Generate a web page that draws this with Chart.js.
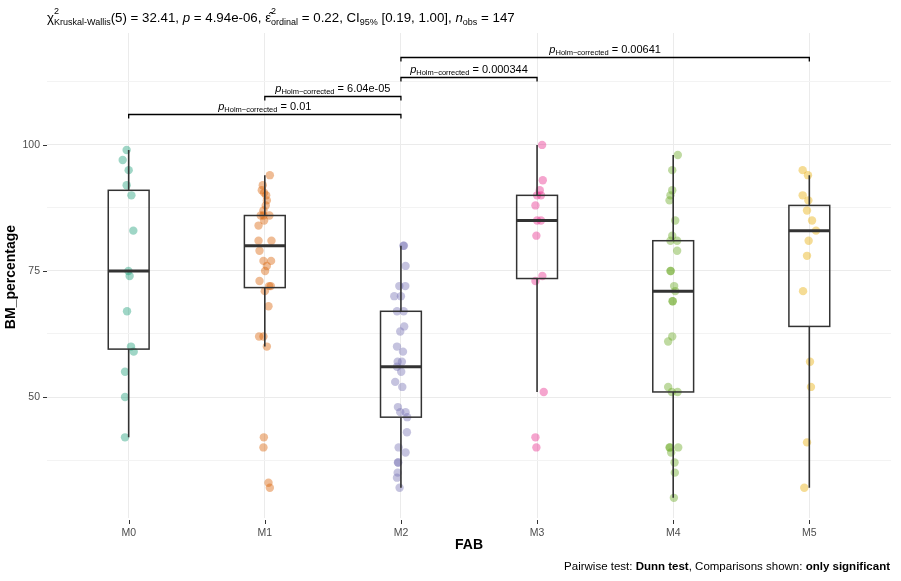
<!DOCTYPE html>
<html>
<head>
<meta charset="utf-8">
<script src="https://cdn.jsdelivr.net/npm/chart.js@4/dist/chart.umd.min.js"></script>
<style>
  html, body { margin: 0; padding: 0; background: #fff; }
  #wrap { width: 901px; height: 581px; position: relative; }
</style>
</head>
<body>
<div id="wrap"><canvas id="fabChart" width="901" height="581"></canvas></div>
<script>
// groups on the x axis
const groups = ['M0', 'M1', 'M2', 'M3', 'M4', 'M5'];
const groupColors = ['#1B9E77', '#D95F02', '#7570B3', '#E7298A', '#66A61E', '#E6AB02'];

// BM_percentage values, one list per group
const valsM0 = [99, 97, 95, 92, 90, 83, 75, 74, 67, 60, 59, 55, 50, 42];
const valsM1 = [94, 92, 91, 90.5, 90, 89, 88, 87, 86, 86, 86, 85, 84, 81, 81, 79, 77, 77, 76, 75, 73, 72, 72, 71, 68, 62, 62, 60, 42, 40, 33, 32];
const valsM2 = [80, 80, 76, 72, 72, 70, 70, 67, 67, 64, 63, 60, 59, 57, 57, 56, 55, 53, 52, 48, 47, 47, 46, 43, 40, 39, 37, 37, 35, 34, 32];
const valsM3 = [100, 93, 91, 90, 90, 88, 85, 85, 82, 74, 73, 51, 42, 40];
const valsM4 = [98, 95, 91, 90, 89, 85, 82, 81, 81, 79, 75, 75, 72, 71, 69, 69, 62, 61, 52, 51, 51, 40, 40, 40, 39, 37, 35, 30];
const valsM5 = [95, 94, 90, 89, 87, 85, 83, 81, 78, 71, 57, 52, 41, 32];

// horizontal jitter of each point (in category units)
const jitM0 = [-0.015, -0.044, 0, -0.015, 0.02, 0.034, -0.002, 0.007, -0.012, 0.017, 0.037, -0.027, -0.027, -0.027];
const jitM1 = [0.037, -0.015, -0.022, -0.005, 0.01, 0.015, 0.007, -0.01, -0.03, 0.034, -0.01, -0.005, -0.046, -0.046, 0.049, -0.039, -0.01, 0.046, 0.015, 0.002, -0.039, 0.032, 0.044, 0, 0.027, -0.042, -0.01, 0.015, -0.007, -0.01, 0.027, 0.037];
const jitM2 = [0.018, 0.022, 0.034, -0.012, 0.032, -0.049, 0, -0.029, 0.02, 0.024, -0.005, -0.029, 0.015, -0.024, 0.007, -0.029, 0.002, -0.042, 0.01, -0.022, -0.005, 0.034, 0.046, 0.044, -0.017, 0.034, -0.022, -0.02, -0.024, -0.029, -0.01];
const jitM3 = [0.037, 0.042, 0.02, 0, 0.029, -0.012, 0, 0.029, -0.005, 0.039, -0.012, 0.049, -0.012, -0.005];
const jitM4 = [0.034, -0.007, -0.007, -0.02, -0.027, 0.015, -0.007, -0.02, 0.029, 0.029, -0.02, -0.018, 0.007, 0.015, -0.005, -0.003, -0.007, -0.037, -0.037, -0.01, 0.032, -0.027, -0.024, 0.037, -0.015, 0.01, 0.012, 0.005];
const jitM5 = [-0.049, -0.01, -0.049, -0.007, -0.017, 0.02, 0.049, -0.005, -0.017, -0.046, 0.005, 0.012, -0.017, -0.037];

// box summaries per group
const boxLow = [42, 60, 32, 51, 30, 32];
const boxQ1 = [59.5, 71.7, 46, 73.5, 51, 64];
const boxMed = [75, 80, 56, 85, 71, 83];
const boxQ3 = [91, 86, 67, 90, 81, 88];
const boxHigh = [99, 94, 80, 100, 98, 94];

// significant pairwise comparisons
const pairFrom = [0, 1, 2, 2];
const pairTo = [2, 2, 3, 5];
const pairY = [106.1, 109.8, 113.5, 117.4];
const pairP = ['0.01', '6.04e-05', '0.000344', '0.00641'];

// y axis ticks (labelled ones and the minor grid in between)
const yTicks = [37.5, 50, 62.5, 75, 87.5, 100, 112.5];
const yLabelled = [50, 75, 100];

const allVals = [valsM0, valsM1, valsM2, valsM3, valsM4, valsM5];
const allJit = [jitM0, jitM1, jitM2, jitM3, jitM4, jitM5];

function hexA(hex, a) {
  const n = parseInt(hex.slice(1), 16);
  return `rgba(${(n >> 16) & 255}, ${(n >> 8) & 255}, ${n & 255}, ${a})`;
}

const FAM = '"Liberation Sans", Arial, Helvetica, sans-serif';
function fontOf(p) {
  return `${p.italic ? 'italic ' : ''}${p.bold ? 'bold ' : ''}${p.size}px ${FAM}`;
}
function partWidth(ctx, p) {
  if (p.sup !== undefined) {
    ctx.font = fontOf({ size: p.size });
    return Math.max(ctx.measureText(p.sup).width, ctx.measureText(p.sub).width);
  }
  ctx.font = fontOf(p);
  return ctx.measureText(p.t).width;
}
function drawRich(ctx, parts, x, y, align) {
  let total = 0;
  parts.forEach(p => total += partWidth(ctx, p));
  let cx = align === 'center' ? x - total / 2 : align === 'right' ? x - total : x;
  ctx.textAlign = 'left';
  ctx.textBaseline = 'alphabetic';
  parts.forEach(p => {
    const w = partWidth(ctx, p);
    if (p.sup !== undefined) {
      ctx.font = fontOf({ size: p.size });
      ctx.fillText(p.sup, cx, y - 8);
      ctx.fillText(p.sub, cx, y + 3);
    } else {
      ctx.font = fontOf(p);
      ctx.fillText(p.t, cx, y + (p.dy || 0));
    }
    cx += w;
  });
}

const datasets = groups.map((g, i) => ({
  label: g,
  data: allVals[i].map((v, k) => ({ x: i + allJit[i][k], y: v })),
  backgroundColor: hexA(groupColors[i], 0.42),
  borderWidth: 0,
  pointRadius: 4.2,
  pointHoverRadius: 4.2
}));

const boxPlugin = {
  id: 'boxes',
  afterDatasetsDraw(chart) {
    const { ctx, scales: { x, y } } = chart;
    ctx.save();
    ctx.strokeStyle = '#333333';
    groups.forEach((g, i) => {
      const cx = x.getPixelForValue(i);
      const half = x.getPixelForValue(i + 0.15) - cx;
      const yq1 = y.getPixelForValue(boxQ1[i]);
      const yq3 = y.getPixelForValue(boxQ3[i]);
      ctx.lineWidth = 1.6;
      ctx.beginPath();
      ctx.moveTo(cx, y.getPixelForValue(boxHigh[i]));
      ctx.lineTo(cx, yq3);
      ctx.moveTo(cx, yq1);
      ctx.lineTo(cx, y.getPixelForValue(boxLow[i]));
      ctx.stroke();
      ctx.lineWidth = 1.5;
      ctx.strokeRect(cx - half, yq3, half * 2, yq1 - yq3);
      ctx.lineWidth = 3;
      ctx.beginPath();
      const ym = y.getPixelForValue(boxMed[i]);
      ctx.moveTo(cx - half, ym);
      ctx.lineTo(cx + half, ym);
      ctx.stroke();
    });

    // comparison brackets
    ctx.strokeStyle = '#000';
    ctx.fillStyle = '#000';
    ctx.lineWidth = 1.3;
    pairFrom.forEach((a, k) => {
      const x1 = x.getPixelForValue(a);
      const x2 = x.getPixelForValue(pairTo[k]);
      const yy = Math.round(y.getPixelForValue(pairY[k])) + 0.5;
      ctx.beginPath();
      ctx.moveTo(x1, yy + 4);
      ctx.lineTo(x1, yy);
      ctx.lineTo(x2, yy);
      ctx.lineTo(x2, yy + 4);
      ctx.stroke();
      drawRich(ctx, [
        { t: 'p', size: 11, italic: true },
        { t: 'Holm\u2212corrected', size: 7.5, dy: 2.5 },
        { t: ' = ' + pairP[k], size: 11 }
      ], (x1 + x2) / 2, yy - 5, 'center');
    });

    // axis tick marks
    ctx.strokeStyle = '#333333';
    ctx.lineWidth = 1;
    const b = chart.chartArea.bottom;
    groups.forEach((g, i) => {
      const px = Math.round(x.getPixelForValue(i)) + 0.5;
      ctx.beginPath();
      ctx.moveTo(px, b + 2);
      ctx.lineTo(px, b + 6);
      ctx.stroke();
    });
    const l = chart.chartArea.left;
    yLabelled.forEach(v => {
      const py = Math.round(y.getPixelForValue(v)) + 0.5;
      ctx.beginPath();
      ctx.moveTo(l - 4, py);
      ctx.lineTo(l, py);
      ctx.stroke();
    });
    ctx.restore();
  },
  afterDraw(chart) {
    const { ctx, chartArea } = chart;
    ctx.save();
    ctx.fillStyle = '#000';
    // subtitle with statistics
    drawRich(ctx, [
      { t: '\u03c7', size: 13.3 },
      { sup: '2', sub: 'Kruskal-Wallis', size: 9 },
      { t: '(5) = 32.41, ', size: 13.3 },
      { t: 'p', size: 13.3, italic: true },
      { t: ' = 4.94e-06, ', size: 13.3 },
      { t: '\u03b5\u0302', size: 13.3 },
      { sup: '2', sub: 'ordinal', size: 9 },
      { t: ' = 0.22, CI', size: 13.3 },
      { t: '95%', size: 9, dy: 3 },
      { t: ' [0.19, 1.00], ', size: 13.3 },
      { t: 'n', size: 13.3, italic: true },
      { t: 'obs', size: 9, dy: 3 },
      { t: ' = 147', size: 13.3 }
    ], 47, 22, 'left');

    // axis titles
    ctx.font = `bold 14px ${FAM}`;
    ctx.textAlign = 'center';
    ctx.textBaseline = 'middle';
    ctx.fillText('FAB', (chartArea.left + chartArea.right) / 2, 545);
    ctx.save();
    ctx.translate(11, 277);
    ctx.rotate(-Math.PI / 2);
    ctx.fillText('BM_percentage', 0, 0);
    ctx.restore();

    // caption
    drawRich(ctx, [
      { t: 'Pairwise test: ', size: 11.5 },
      { t: 'Dunn test', size: 11.5, bold: true },
      { t: ', Comparisons shown: ', size: 11.5 },
      { t: 'only significant', size: 11.5, bold: true }
    ], 890, 570, 'right');
    ctx.restore();
  }
};

const chart = new Chart(document.getElementById('fabChart').getContext('2d'), {
  type: 'scatter',
  data: { datasets },
  options: {
    responsive: false,
    animation: false,
    layout: { padding: { top: 33, right: 10, left: 0, bottom: 0 } },
    plugins: { legend: { display: false }, tooltip: { enabled: false } },
    scales: {
      x: {
        type: 'linear',
        min: -0.6,
        max: 5.6,
        afterBuildTicks: s => { s.ticks = groups.map((g, i) => ({ value: i })); },
        afterFit: s => { s.height = 63; },
        border: { display: false },
        grid: { color: '#EBEBEB', lineWidth: 1, drawTicks: false },
        ticks: {
          padding: 9,
          color: '#4D4D4D',
          font: { size: 10.5, family: FAM },
          callback: v => groups[v]
        }
      },
      y: {
        min: 26,
        max: 122.2,
        afterBuildTicks: s => { s.ticks = yTicks.map(v => ({ value: v })); },
        afterFit: s => { s.width = 47; },
        border: { display: false },
        grid: {
          drawTicks: false,
          color: c => yLabelled.includes(c.tick.value) ? '#EBEBEB' : '#F3F3F3',
          lineWidth: 1
        },
        ticks: {
          padding: 7,
          color: '#4D4D4D',
          font: { size: 10.5, family: FAM },
          callback: v => yLabelled.includes(v) ? String(v) : ''
        }
      }
    }
  },
  plugins: [boxPlugin]
});
</script>
</body>
</html>
